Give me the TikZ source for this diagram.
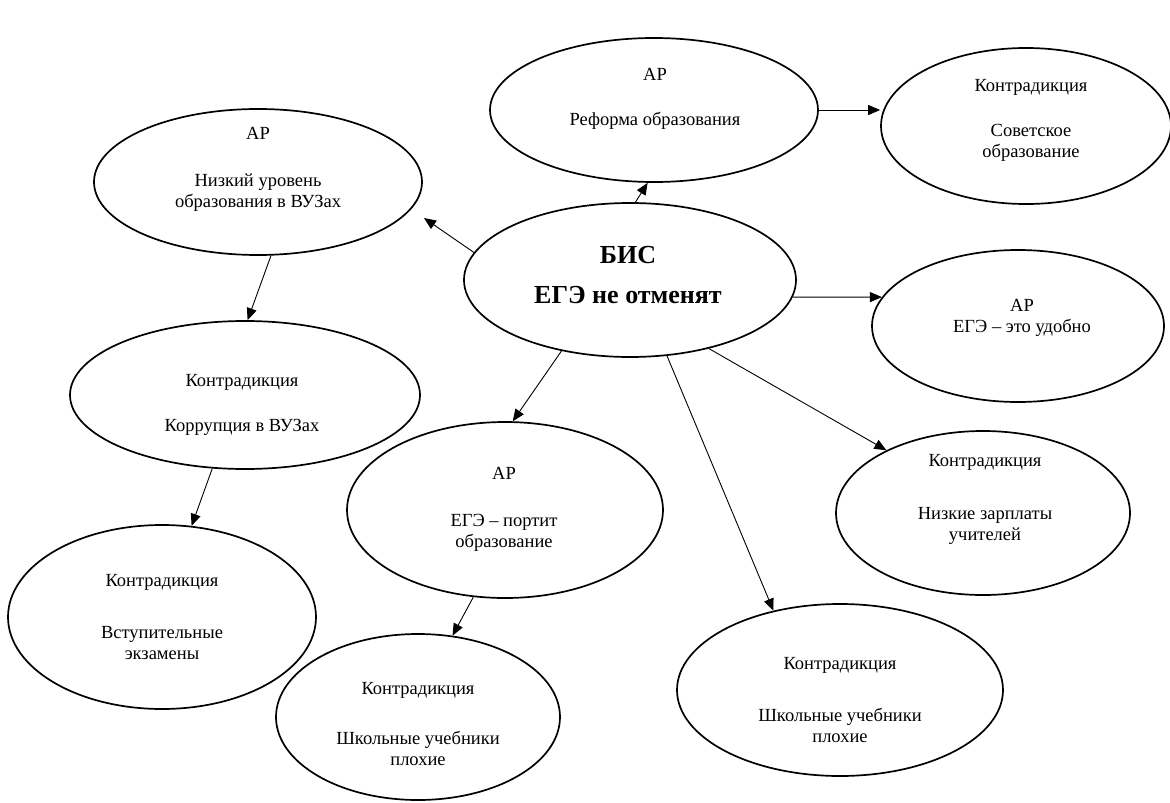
\documentclass[tikz,border=0pt]{standalone}
\usepackage{fontspec}
\setmainfont{Liberation Serif}
\usetikzlibrary{shapes.geometric,arrows.meta}
\tikzset{
  ell/.style={ellipse, draw, line width=1.7pt, inner sep=0pt},
  txt/.style={align=center, font=\fontsize{18.5}{20.5}\selectfont, inner sep=0pt, anchor=base},
  btxt/.style={align=center, font=\fontsize{26}{40}\selectfont\bfseries, inner sep=0pt, anchor=base},
  conn/.style={-{Triangle[length=12pt,width=10pt]}, line width=0.9pt},
}
\begin{document}
\begin{tikzpicture}[x=1pt,y=-1pt]
\useasboundingbox (0,0) rectangle (1170,803);
% ellipses
\node[ell, minimum width=328pt, minimum height=144pt] (ref) at (654,110) {};
\node[ell, minimum width=290pt, minimum height=156pt] (sov) at (1026,126) {};
\node[ell, minimum width=328pt, minimum height=146pt] (niz) at (258,182) {};
\node[ell, minimum width=332pt, minimum height=154pt] (bis) at (630,280) {};
\node[ell, minimum width=292pt, minimum height=152pt] (udob) at (1018,326) {};
\node[ell, minimum width=350pt, minimum height=148pt] (korr) at (245,395) {};
\node[ell, minimum width=316pt, minimum height=176pt] (port) at (505,510) {};
\node[ell, minimum width=294pt, minimum height=164pt] (zarp) at (983,513) {};
\node[ell, minimum width=308pt, minimum height=184pt] (vstup) at (162,617) {};
\node[ell, minimum width=284pt, minimum height=166pt] (shkL) at (418,717) {};
\node[ell, minimum width=326pt, minimum height=172pt] (shkR) at (840,690) {};
% texts (positioned at the baseline of their last line)
\node[txt] (tref) at (655,125) {АР\\[24.5pt]Реформа образования};
\node[txt] (tsov) at (1031,157) {Контрадикция\\[24.5pt]Советское\\образование};
\node[txt] (tniz) at (258,207) {АР\\[26.5pt]Низкий уровень\\образования в ВУЗах};
\node[btxt] (tbis) at (628,303) {БИС\\ЕГЭ не отменят};
\node[txt] (tudob) at (1022,332) {АР\\ЕГЭ – это удобно};
\node[txt] (tkorr) at (242,431) {Контрадикция\\[24.5pt]Коррупция в ВУЗах};
\node[txt] (tport) at (504,547) {АР\\[26.5pt]ЕГЭ – портит\\образование};
\node[txt] (tzarp) at (985,540) {Контрадикция\\[32.5pt]Низкие зарплаты\\учителей};
\node[txt] (tvstup) at (162,659) {Контрадикция\\[31.5pt]Вступительные\\экзамены};
\node[txt] (tshkL) at (418,765) {Контрадикция\\[29.5pt]Школьные учебники\\плохие};
\node[txt] (tshkR) at (840,742) {Контрадикция\\[31.5pt]Школьные учебники\\плохие};
% connectors
\coordinate (nizgap) at (424,218);
\draw[conn] (bis.86) -- (ref.-95);
\draw[conn] (bis.170) -- (nizgap);
\draw[conn] (ref.east) -- (sov.west |- ref.east);
\draw[conn] (bis.-6) -- (udob.168);
\draw[conn] (niz.-80) -- (korr.88);
\draw[conn] (korr.-114) -- (vstup.72);
\draw[conn] (bis.-134) -- (port.85);
\draw[conn] (bis.-64) -- (shkR.130);
\draw[conn] (bis.-41) -- (zarp.147);
\draw[conn] (port.-110) -- (shkL.67);
\end{tikzpicture}
\end{document}
